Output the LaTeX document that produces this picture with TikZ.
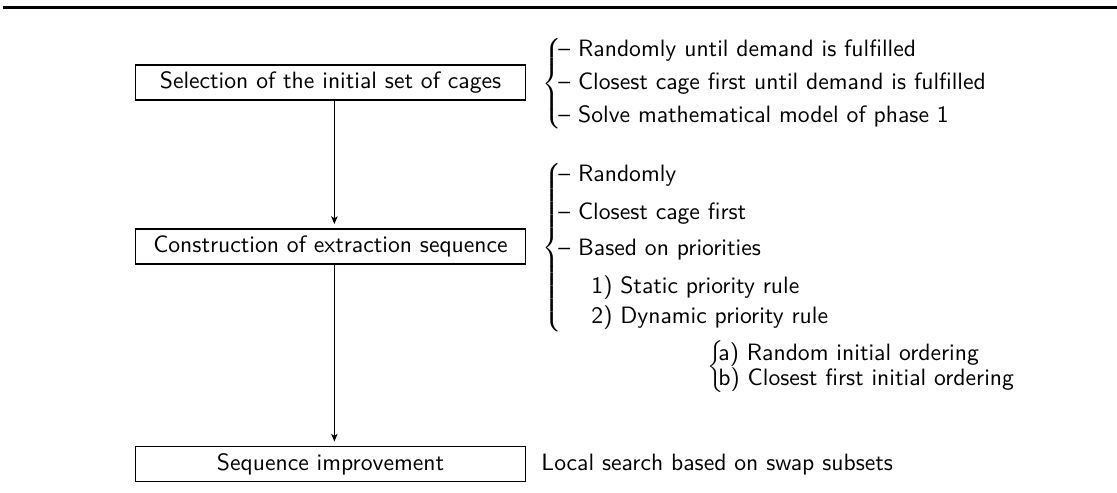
\documentclass[11pt,tikz,border=0pt]{standalone}
\usetikzlibrary{arrows.meta}

% a left curly brace of at least the given height, centred on its node
\newcommand{\lbr}[1]{\makebox[5pt][l]{$\delimiterfactor=1000\delimitershortfall=0pt
  \nulldelimiterspace=0pt\left\{\vcenter{\hbox{\rule{0pt}{#1}}}\right.$}}

\begin{document}
\begin{tikzpicture}[x=0.463pt, y=-0.463pt, font=\sffamily,
  stagebox/.style={draw, line width=0.6pt, minimum width=180.6pt,
    minimum height=16.2pt, inner sep=0pt},
  item/.style={anchor=base west, inner sep=0pt},
  bracenode/.style={anchor=west, inner sep=0pt},
  flow/.style={-{Stealth[length=3.6pt, width=3pt, inset=1pt]},
    line width=0.5pt, shorten >=2pt}]

\useasboundingbox (0,0) rectangle (1117,493);

% top rule
\draw[line width=1pt] (3,7.5) -- (1117,7.5);

% the three stages
\node[stagebox] (sel) at (330.5,82.5) {Selection of the initial set of cages};
\node[stagebox] (con) at (330.5,246.5) {Construction of extraction sequence};
\node[stagebox] (imp) at (330.5,464) {Sequence improvement};

% the flow between stages runs a little right of the box centres
\draw[flow] ([xshift=1.8pt]sel.south) -- ([xshift=1.8pt]con.north);
\draw[flow] ([xshift=1.8pt]con.south) -- ([xshift=1.8pt]imp.north);

% options for the initial selection
\node[bracenode] (br1) at (542,84) {\lbr{37pt}};
\node[item] (s1) at (558,57) {-- Randomly until demand is fulfilled};
\node[item] (s2) at (558,90) {-- Closest cage first until demand is fulfilled};
\node[item] (s3) at (558,123) {-- Solve mathematical model of phase 1};

% options for the construction of the sequence
\node[bracenode] (br2) at (542,247.5) {\lbr{78pt}};
\node[item] (c1) at (558,182) {-- Randomly};
\node[item] (c2) at (558,220) {-- Closest cage first};
\node[item] (c3) at (558,256) {-- Based on priorities};
\node[item] (c4) at (591,294) {1) Static priority rule};
\node[item] (c5) at (591,324) {2) Dynamic priority rule};

% initial orderings of the dynamic rule
\node[bracenode] (br3) at (707,367) {\lbr{22pt}};
\node[item] (d1) at (718,361) {a) Random initial ordering};
\node[item] (d2) at (718,386) {b) Closest first initial ordering};

% improvement method
\node[item] (ls) at (541,471) {Local search based on swap subsets};

\end{tikzpicture}
\end{document}
